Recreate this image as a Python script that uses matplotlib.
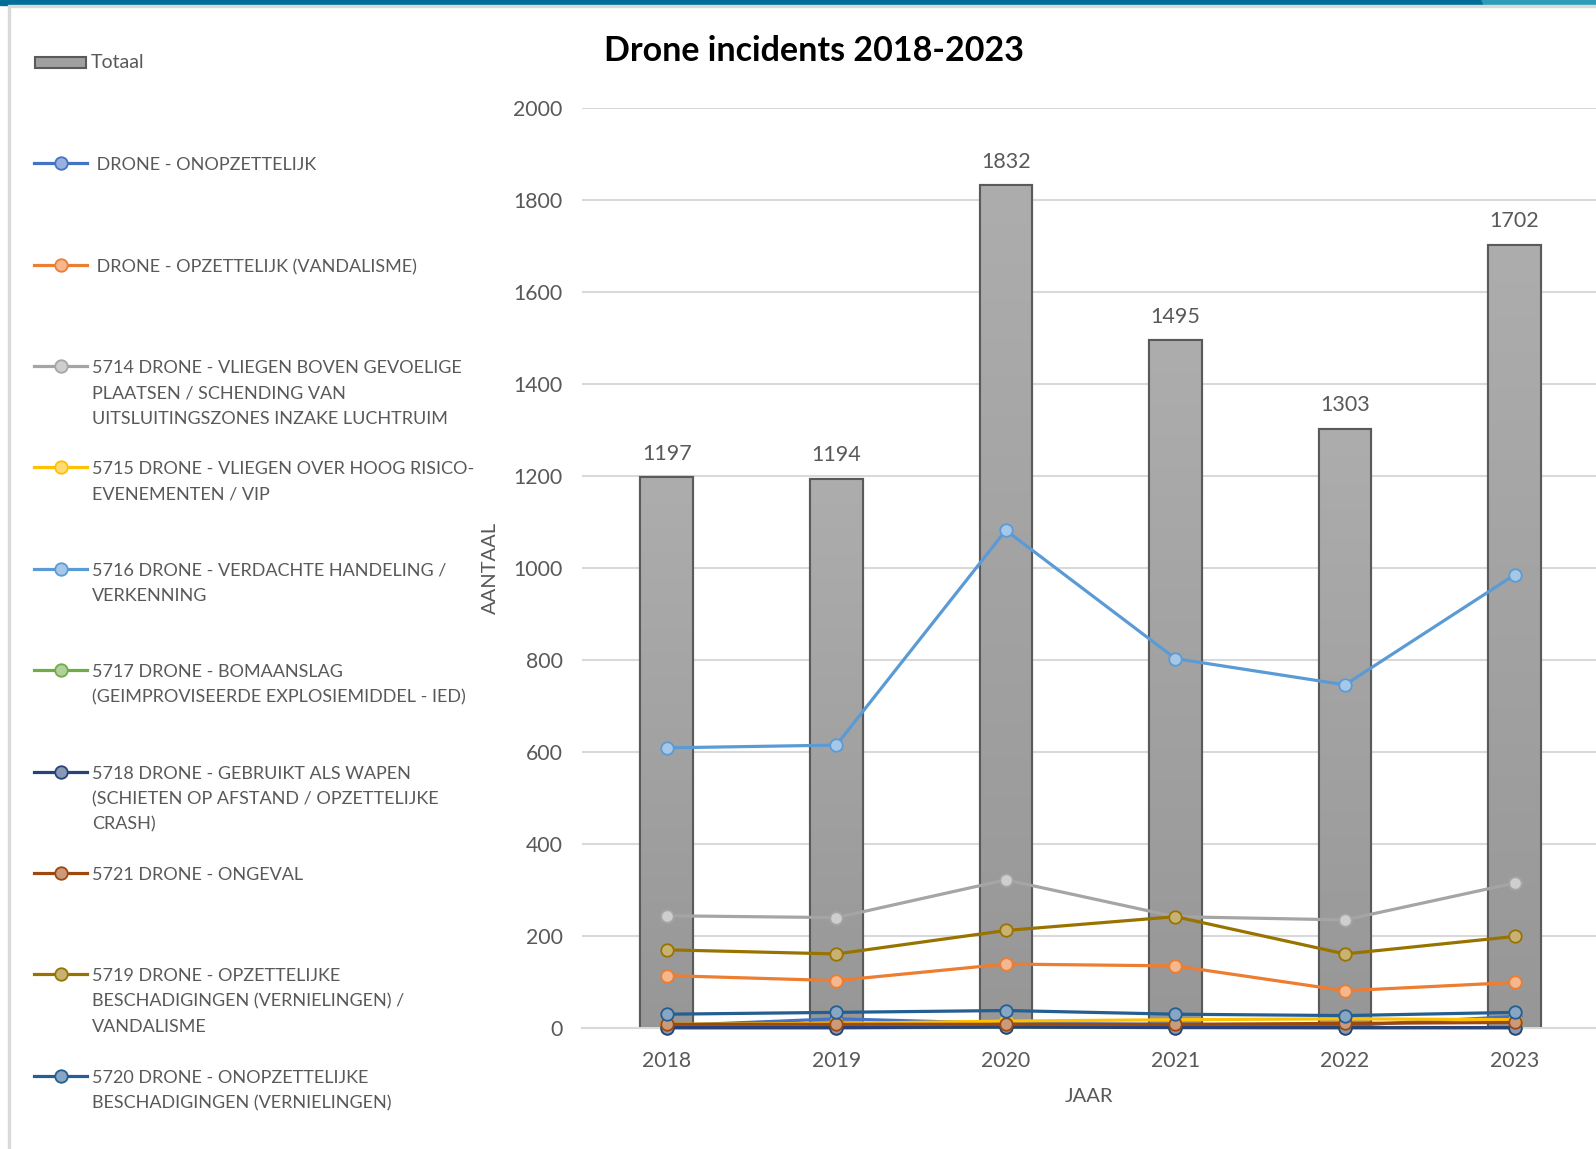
import numpy as np
import matplotlib
matplotlib.use("Agg")
import matplotlib.pyplot as plt
from matplotlib.lines import Line2D
from matplotlib.patches import Rectangle, Polygon
from matplotlib.colors import to_rgb

plt.rcParams['font.family'] = ['Lato', 'DejaVu Sans']

years = ["2018", "2019", "2020", "2021", "2022", "2023"]
totaal = [1197, 1194, 1832, 1495, 1303, 1702]

onopzettelijk = [5, 20, 10, 8, 5, 25]
opzettelijk = [114, 103, 139, 135, 81, 99]
s5714 = [244, 240, 322, 242, 235, 315]
s5715 = [8, 10, 15, 18, 20, 18]
s5716 = [609, 615, 1082, 803, 746, 985]
s5717 = [0, 0, 2, 1, 0, 0]
s5718 = [1, 1, 2, 1, 1, 1]
s5721 = [8, 8, 8, 8, 10, 12]
s5719 = [170, 161, 212, 242, 161, 199]
s5720 = [30, 34, 38, 30, 27, 34]

series_names = [
    " DRONE - ONOPZETTELIJK",
    " DRONE - OPZETTELIJK (VANDALISME)",
    "5714 DRONE - VLIEGEN BOVEN GEVOELIGE\nPLAATSEN / SCHENDING VAN\nUITSLUITINGSZONES INZAKE LUCHTRUIM",
    "5715 DRONE - VLIEGEN OVER HOOG RISICO-\nEVENEMENTEN / VIP",
    "5716 DRONE - VERDACHTE HANDELING /\nVERKENNING",
    "5717 DRONE - BOMAANSLAG\n(GEIMPROVISEERDE EXPLOSIEMIDDEL - IED)",
    "5718 DRONE - GEBRUIKT ALS WAPEN\n(SCHIETEN OP AFSTAND / OPZETTELIJKE\nCRASH)",
    "5721 DRONE - ONGEVAL",
    "5719 DRONE - OPZETTELIJKE\nBESCHADIGINGEN (VERNIELINGEN) /\nVANDALISME",
    "5720 DRONE - ONOPZETTELIJKE\nBESCHADIGINGEN (VERNIELINGEN)",
]
series_values = [onopzettelijk, opzettelijk, s5714, s5715, s5716, s5717,
                 s5718, s5721, s5719, s5720]
series_colors = ["#4472C4", "#ED7D31", "#A5A5A5", "#FFC000", "#5B9BD5",
                 "#70AD47", "#264478", "#9E480E", "#997300", "#255E91"]

W, H = 1596, 1149
fig = plt.figure(figsize=(W / 100, H / 100), dpi=100)


def fx(x):
    return x / W


def fy(y):
    return 1 - y / H


def tint(c, f=0.45):
    r = np.array(to_rgb(c))
    return tuple(r + (1 - r) * f)


TEXT = "#595959"
AX_L, AX_R = 582, 1599.3
ax = fig.add_axes([fx(AX_L), fy(1028), fx(AX_R) - fx(AX_L), fy(108) - fy(1028)])
x = np.arange(len(years))

bars = ax.bar(x, totaal, width=0.31, color="#A0A0A0", edgecolor="#5A5A5A",
              linewidth=1.5, zorder=2)
grad = np.linspace(0, 1, 256).reshape(-1, 1)
cmap = matplotlib.colors.LinearSegmentedColormap.from_list(
    "g", ["#979797", "#ADADAD"])
for b in bars:
    x0, w, h = b.get_x(), b.get_width(), b.get_height()
    im = ax.imshow(grad, cmap=cmap, origin="lower", aspect="auto",
                   extent=[x0, x0 + w, 0, h], zorder=2.1)
    im.set_clip_path(b)
    edge = Rectangle((x0, 0), w, h, fill=False, edgecolor="#5A5A5A",
                     linewidth=1.5, zorder=2.2)
    ax.add_patch(edge)
    ax.annotate(str(int(h)), (x0 + w / 2, h), xytext=(0, 17),
                textcoords="offset points", ha="center", va="center",
                fontsize=15.5, color=TEXT)

for vals, col in zip(series_values, series_colors):
    ax.plot(x, vals, color=col, linewidth=2.3, marker="o", markersize=9,
            markerfacecolor=tint(col), markeredgecolor=col,
            markeredgewidth=1.3, zorder=3, clip_on=False)

ax.set_xlim(-0.5, 5.5)
ax.set_ylim(0, 2000)
ax.set_yticks(np.arange(0, 2001, 200))
ax.set_xticks(x)
ax.set_xticklabels(years)
ax.grid(axis="y", color="#D9D9D9", linewidth=1.5, zorder=0)
ax.set_axisbelow(True)
for s in ["left", "right", "top"]:
    ax.spines[s].set_visible(False)
ax.spines["bottom"].set_color("#D9D9D9")
ax.spines["bottom"].set_linewidth(1.5)
ax.tick_params(axis="both", length=0, labelsize=15.3, labelcolor=TEXT)
ax.tick_params(axis="y", pad=14)
ax.tick_params(axis="x", pad=16.5)

ax.set_ylabel("AANTAAL", fontsize=14.5, color=TEXT)
ax.yaxis.set_label_coords((490.6 - AX_L) / (AX_R - AX_L), 0.5)
ax.yaxis.label.set_va("center")
ax.set_xlabel("JAAR", fontsize=14.5, color=TEXT)
ax.xaxis.set_label_coords((1089 - AX_L) / (AX_R - AX_L), (1028 - 1097) / 920)
ax.xaxis.label.set_va("center")

fig.text(fx(814), fy(51), "Drone incidents 2018-2023", ha="center",
         va="center", fontsize=24.5, fontweight="bold", color="black")

# Legend (manual, Excel-like layout)
entry_y = [163, 265, 366, 467, 569, 670, 772, 873, 974, 1076]
lx0, lx1, tx = 34, 87, 92
line_step = 25.4
LFS = 13
fig.patches.append(Rectangle((fx(35), fy(68)), fx(86) - fx(35), fy(57) - fy(68),
                             transform=fig.transFigure, facecolor="#A0A0A0",
                             edgecolor="#5A5A5A", linewidth=1.5))
fig.text(fx(tx - 1), fy(63), "Totaal", ha="left", va="center", fontsize=14,
         color=TEXT)
for name, col, yy in zip(series_names, series_colors, entry_y):
    fig.add_artist(Line2D([fx(lx0), fx(lx1)], [fy(yy), fy(yy)],
                          transform=fig.transFigure, color=col, linewidth=2.3))
    fig.add_artist(Line2D([fx((lx0 + lx1) / 2)], [fy(yy)],
                          transform=fig.transFigure, color=col, marker="o",
                          markersize=9, markerfacecolor=tint(col),
                          markeredgecolor=col, markeredgewidth=1.3))
    for i, ln in enumerate(name.split("\n")):
        fig.text(fx(tx), fy(yy + 2 + i * line_step), ln, ha="left",
                 va="center", fontsize=LFS, color=TEXT)

# Frame decorations
fig.patches.append(Rectangle((0, fy(5)), 1, fy(0) - fy(5),
                             transform=fig.transFigure, color="#006E96"))
fig.patches.append(Polygon([(fx(1484), fy(5)), (fx(1482), fy(0)), (1, 1), (1, fy(5))],
                           closed=True, transform=fig.transFigure,
                           color="#2E9BB8"))
fig.patches.append(Rectangle((fx(8), fy(7)), 1 - fx(8), fy(5) - fy(7),
                             transform=fig.transFigure, color="#DADADA"))
fig.patches.append(Rectangle((fx(8), 0), fx(10) - fx(8), fy(6),
                             transform=fig.transFigure, color="#DADADA"))

fig.savefig("out.png", dpi=100)
